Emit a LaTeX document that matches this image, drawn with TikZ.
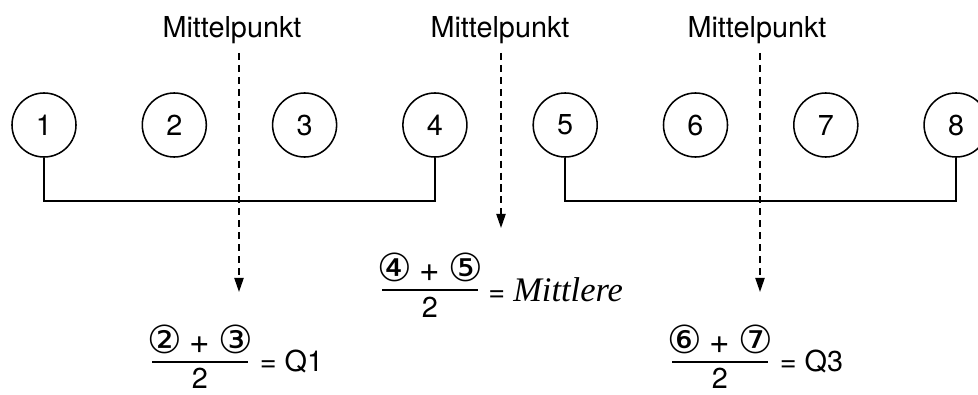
\documentclass[tikz,border=0pt]{standalone}
\usepackage{fontspec}
\setmainfont{TeX Gyre Heros}
\newfontfamily\circf{DejaVu Sans}
\newfontfamily\serifit{Liberation Serif}
\newcommand{\cd}[1]{{\circf\fontsize{27.5}{28}\selectfont #1}}
\newcommand{\pl}{{\fontsize{25}{26}\selectfont +}}
\usetikzlibrary{arrows.meta,positioning}

\begin{document}
\begin{tikzpicture}[
  x=0.025cm,y=-0.025cm,
  font=\fontsize{20.5}{24}\selectfont,
  >={Triangle[length=10pt,width=6.5pt]},
  val/.style={draw,circle,line width=1.1pt,minimum size=1.6cm,inner sep=0pt},
  lbl/.style={inner sep=0pt},
  bracket/.style={line width=1.3pt},
  mid/.style={->,line width=1.3pt,dash pattern=on 5pt off 3.5pt},
  fracbar/.style={fill,minimum width=2.4cm,minimum height=1.4pt,inner sep=0pt},
  num/.style={inner sep=0pt}
]
  \useasboundingbox (0,0) rectangle (978,394);

  % the eight sorted values
  \foreach \i in {1,...,8}
    \node[val] (c\i) at ({44+130.3*(\i-1)},125) {\i};

  \draw[bracket] (c1.south) -- ++(0,43) -| (c4.south);
  \draw[bracket] (c5.south) -- ++(0,43) -| (c8.south);

  % midpoints
  \node[lbl] (mp1) at (232,30) {Mittelpunkt};
  \node[lbl] (mp2) at (500,30) {Mittelpunkt};
  \node[lbl] (mp3) at (757,30) {Mittelpunkt};

  \coordinate (t1) at (239,292);
  \coordinate (t2) at (501,228);
  \coordinate (t3) at (760,292);

  \draw[mid] (t1 |- 0,53) -- (t1);
  \draw[mid] (t2 |- 0,53) -- (t2);
  \draw[mid] (t3 |- 0,53) -- (t3);

  % Q1
  \node[fracbar] (q1bar) at (200,362) {};
  \node[num,above=5pt of q1bar] (q1num) {\cd{②} \pl{} \cd{③}};
  \node[num,below=3.5pt of q1bar] (q1den) {2};
  \node[num,right=8pt of q1bar] (q1) {= Q1};

  % Mittlere
  \node[fracbar] (mbar) at (430,290) {};
  \node[num,above=5pt of mbar] (mnum) {\cd{④} \pl{} \cd{⑤}};
  \node[num,below=4pt of mbar] (mden) {2};
  \node[num,right=7pt of mbar] (med) {= {\serifit\itshape\fontsize{24.5}{26}\selectfont Mittlere}};

  % Q3
  \node[fracbar] (q3bar) at (720,362) {};
  \node[num,above=5pt of q3bar] (q3num) {\cd{⑥} \pl{} \cd{⑦}};
  \node[num,below=3.5pt of q3bar] (q3den) {2};
  \node[num,right=8pt of q3bar] (q3) {= Q3};
\end{tikzpicture}
\end{document}
